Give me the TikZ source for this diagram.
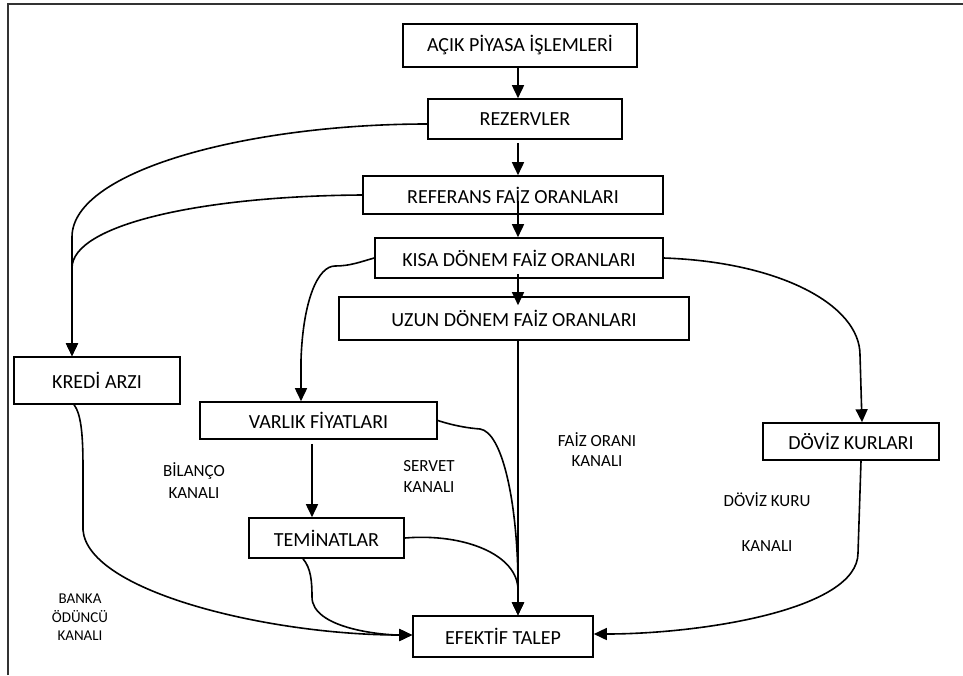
\documentclass[tikz,border=0pt]{standalone}
\usepackage{fontspec}
\setmainfont{Carlito}
\usetikzlibrary{arrows.meta,calc}
\begin{document}
\begin{tikzpicture}[x=1pt,y=-1pt,
  box/.style={draw, line width=1.6pt, rectangle, inner sep=0pt, font=\fontsize{20}{24}\selectfont},
  conn/.style={line width=1.6pt, -{Triangle[length=13pt,width=12pt]}},
  plain/.style={line width=1.6pt},
  lab/.style={font=\fontsize{17}{20}\selectfont, inner sep=0pt},
  slab/.style={font=\fontsize{15}{18}\selectfont, inner sep=0pt}]
\useasboundingbox (0,0) rectangle (963,675);
\draw[line width=2pt, black!80] (8,675) -- (8,4) -- (963,4);

% boxes
\node[box, minimum width=234pt, minimum height=43pt] (acik) at (520,45.5) {AÇIK PİYASA İŞLEMLERİ};
\node[box, minimum width=194pt, minimum height=40pt] (rez) at (525,119) {REZERVLER};
\node[box, minimum width=300pt, minimum height=38pt] (ref) at (513,195) {REFERANS FAİZ ORANLARI};
\node[box, minimum width=288pt, minimum height=40pt] (kisa) at (519,258) {KISA DÖNEM FAİZ ORANLARI};
\node[box, minimum width=350pt, minimum height=43pt] (uzun) at (514,318.5) {UZUN DÖNEM FAİZ ORANLARI};
\node[box, minimum width=166pt, minimum height=47pt] (kredi) at (97,380.5) {KREDİ ARZI};
\node[box, minimum width=237pt, minimum height=37pt] (varlik) at (318.5,420.5) {VARLIK FİYATLARI};
\node[box, minimum width=155pt, minimum height=40pt] (tem) at (326.5,538) {TEMİNATLAR};
\node[box, minimum width=180pt, minimum height=41pt] (efektif) at (503,636.5) {EFEKTİF TALEP};
\node[box, minimum width=176pt, minimum height=37pt] (doviz) at (851,441.5) {DÖVİZ KURLARI};

% labels
\node[lab] (bil1) at (194,471) {BİLANÇO};
\node[lab] (bil2) at (194,493) {KANALI};
\node[lab] (ser1) at (429,466) {SERVET};
\node[lab] (ser2) at (429,487) {KANALI};
\node[lab] (faiz1) at (597,440) {FAİZ ORANI};
\node[lab] (faiz2) at (597,461) {KANALI};
\node[lab] (dk1) at (767,500) {DÖVİZ KURU};
\node[lab] (dk2) at (767,546) {KANALI};
\node[slab] (bo1) at (80,599) {BANKA};
\node[slab] (bo2) at (80,617) {ÖDÜNCÜ};
\node[slab] (bo3) at (80,636) {KANALI};

% helper coordinates
\coordinate (spine) at (518,0);
\coordinate (vt) at (312,0);
\coordinate (kr) at (72,0);

% spine arrows
\draw[conn] (acik.south -| spine) -- (rez.north -| spine);
\draw[conn] ($(rez.south -| spine)+(0,3)$) -- (ref.north -| spine);
\draw[conn] ($(ref.south -| spine)+(0,-14)$) -- (kisa.north -| spine);
\draw[conn] ($(kisa.south -| spine)+(0,-5)$) -- ($(uzun.north -| spine)+(0,9)$);
\draw[conn] (uzun.south -| spine) -- (efektif.north -| spine);

% to kredi
\draw[conn] ($(rez.west)+(0,5)$) .. controls (250,124) and (72,170) .. (72,237) -- (kredi.north -| kr);
\draw[conn] (ref.west) .. controls (200,196) and (72,225) .. (72,268) -- (kredi.north -| kr);

% kisa to varlik
\draw[conn] (kisa.west) .. controls (360,262) and (350,266) .. (335,266)
  .. controls (318,266) and (303,300) .. (301,360) -- (varlik.north -| 301,0);

% kisa to doviz
\draw[conn] (kisa.east) .. controls (780,262) and (860,305) .. (860,355) -- (doviz.north -| 862,0);

% varlik to teminatlar
\draw[conn] ($(varlik.south -| vt)+(0,4)$) -- (tem.north -| vt);

% varlik to efektif
\draw[conn] (varlik.east) .. controls (455,426) and (468,428) .. (480,429)
  .. controls (502,432) and (517,500) .. (518,580) -- (efektif.north -| spine);

% teminatlar to efektif (right)
\draw[conn] (tem.east) .. controls (465,533) and (518,555) .. (518,590) -- (efektif.north -| spine);

% teminatlar to efektif (bottom)
\draw[conn] (tem.south -| 303,0) .. controls (311,568) and (312,582) .. (312,597)
  .. controls (312,628) and (380,635) .. (efektif.west |- 0,635);

% kredi to efektif
\draw[conn] (kredi.south -| 74,0) .. controls (82,415) and (83,440) .. (83,470) -- (83,530)
  .. controls (88,592) and (270,635) .. (efektif.west |- 0,635);

% doviz to efektif
\draw[conn] (doviz.south -| 861,0) -- (858,553)
  .. controls (858,610) and (700,634) .. (efektif.east |- 0,634);
\end{tikzpicture}
\end{document}
